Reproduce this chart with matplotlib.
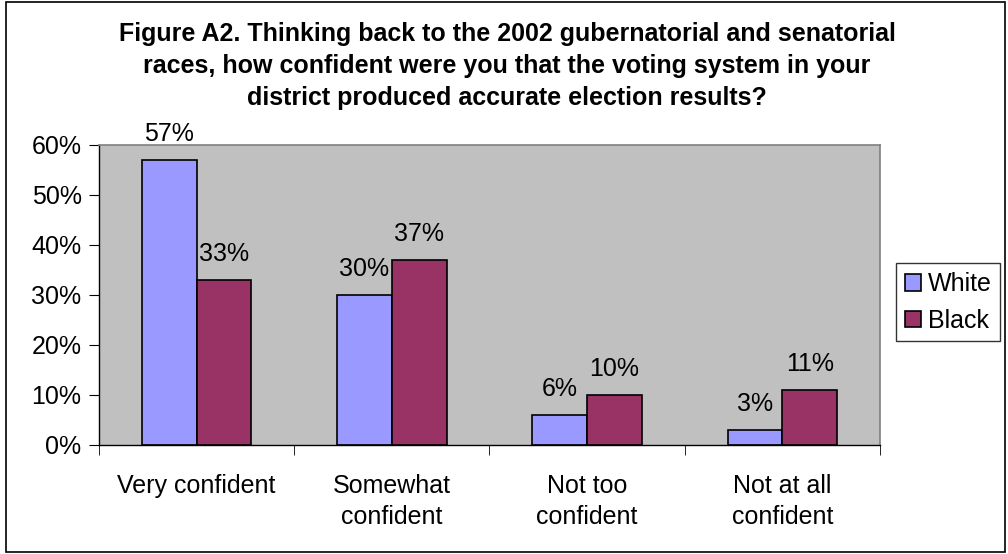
import matplotlib
matplotlib.use("Agg")
import matplotlib.pyplot as plt
from matplotlib.patches import Rectangle
import numpy as np

categories = ["Very confident", "Somewhat\nconfident", "Not too\nconfident", "Not at all\nconfident"]
series_names = ["White", "Black"]
white = [57, 30, 6, 3]
black = [33, 37, 10, 11]
yticks = [0, 10, 20, 30, 40, 50, 60]
title = ("Figure A2. Thinking back to the 2002 gubernatorial and senatorial\n"
         "races, how confident were you that the voting system in your\n"
         "district produced accurate election results?")

plt.rcParams['font.family'] = ['Liberation Sans', 'DejaVu Sans']
FS = 18

fig = plt.figure(figsize=(10.08, 5.54), dpi=100)
fig.patches.append(Rectangle((0.006, 0.004), 0.991, 0.992, transform=fig.transFigure,
                             fill=False, edgecolor='black', linewidth=1.2))
ax = fig.add_axes([0.0982, 0.1968, 0.7748, 0.5415])
ax.set_facecolor('#C0C0C0')

x = np.arange(len(categories))
w = 0.28
b1 = ax.bar(x - w/2, white, w, color='#9999FF', edgecolor='black', linewidth=1.2, label=series_names[0])
b2 = ax.bar(x + w/2, black, w, color='#993366', edgecolor='black', linewidth=1.2, label=series_names[1])
for bars, vals in ((b1, white), (b2, black)):
    for r, v in zip(bars, vals):
        ax.annotate(f"{v}%", (r.get_x() + r.get_width()/2, v), xytext=(0, 19),
                    textcoords='offset points', ha='center', va='center', fontsize=FS)

ax.set_xlim(-0.5, 3.5)
ax.set_ylim(0, 60)
ax.set_yticks(yticks)
ax.set_yticklabels([f"{t}%" for t in yticks], fontsize=FS)
ax.set_xticks(x)
ax.set_xticklabels(categories, fontsize=FS, linespacing=1.35)
ax.tick_params(axis='x', length=0, pad=21)
ax.set_xticks(np.arange(-0.5, 4.0, 1.0), minor=True)
ax.tick_params(axis='x', which='minor', length=7, direction='out', color='black')
ax.tick_params(axis='y', length=7, direction='out', color='black', pad=5.5)
for s in ['top', 'right']:
    ax.spines[s].set_color('#808080')
    ax.spines[s].set_linewidth(1.2)
for s in ['left', 'bottom']:
    ax.spines[s].set_color('black')
    ax.spines[s].set_linewidth(1.0)

fig.text(0.503, 1 - 66/554, title, ha='center', va='center', fontsize=18, fontweight='bold',
         linespacing=1.4)

leg = ax.legend(loc='center left', bbox_to_anchor=(1.0205, 0.475), fontsize=FS, frameon=True,
                fancybox=False, edgecolor='black', handlelength=0.64, handleheight=0.64,
                handletextpad=0.28, borderpad=0.35, labelspacing=0.5, borderaxespad=0)
leg.get_frame().set_linewidth(1.0)

fig.savefig("out.png", dpi=100)
